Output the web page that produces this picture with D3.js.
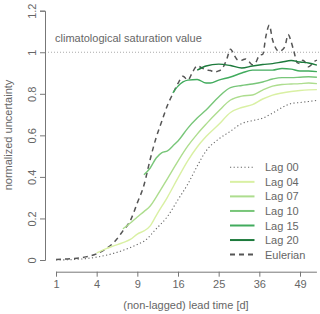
<!DOCTYPE html>
<html>
<head>
<meta charset="utf-8">
<script src="https://cdn.jsdelivr.net/npm/d3@7"></script>
<style>
  body { margin: 0; background: #fff; }
  text { font-family: "Liberation Sans", Arial, sans-serif; fill: #666; }
</style>
</head>
<body>
<div id="chart"></div>
<script>
// lead time ticks (square-root axis)
var xTicks = [1, 4, 9, 16, 25, 36, 49];
var yTicks = [0, 0.2, 0.4, 0.6, 0.8, 1, 1.2];

// days sampled for the lagged curves
var daysLag00 = [1, 2, 4, 6, 8, 9, 10, 12, 14, 16, 18, 20, 22, 25, 28, 31, 34, 37, 40, 43, 46, 49, 52, 55];
var lag00 = [0.0, 0.002, 0.014, 0.034, 0.06, 0.075, 0.09, 0.15, 0.21, 0.29, 0.366, 0.452, 0.525, 0.582, 0.62, 0.657, 0.671, 0.683, 0.707, 0.734, 0.753, 0.758, 0.763, 0.768];

var daysLag04 = [4, 5, 6, 7, 8, 9, 10, 11, 12, 14, 16, 18, 20, 22, 25, 28, 31, 34, 37, 40, 43, 46, 49, 52, 55];
var lag04 = [0.034, 0.055, 0.07, 0.084, 0.099, 0.125, 0.14, 0.164, 0.214, 0.303, 0.395, 0.478, 0.544, 0.594, 0.652, 0.71, 0.734, 0.748, 0.775, 0.794, 0.804, 0.811, 0.816, 0.819, 0.82];

var daysLag07 = [7, 8, 9, 10, 11, 12, 14, 16, 18, 20, 22, 25, 28, 31, 34, 37, 40, 43, 46, 49, 52, 55];
var lag07 = [0.15, 0.178, 0.207, 0.233, 0.26, 0.303, 0.392, 0.476, 0.549, 0.606, 0.654, 0.717, 0.77, 0.789, 0.794, 0.818, 0.837, 0.845, 0.847, 0.849, 0.852, 0.849];

var daysLag10 = [10, 11, 12, 13, 14, 15, 16, 18, 20, 22, 25, 28, 31, 34, 37, 40, 43, 46, 49, 52, 55];
var lag10 = [0.41, 0.443, 0.491, 0.517, 0.525, 0.549, 0.573, 0.635, 0.683, 0.722, 0.785, 0.83, 0.84, 0.847, 0.857, 0.871, 0.878, 0.878, 0.88, 0.882, 0.88];

var daysLag15 = [15, 16, 17, 18, 20, 22, 23, 25, 28, 31, 34, 37, 40, 43, 46, 49, 52, 55];
var lag15 = [0.804, 0.837, 0.857, 0.866, 0.869, 0.852, 0.852, 0.866, 0.881, 0.9, 0.914, 0.914, 0.914, 0.922, 0.919, 0.91, 0.91, 0.907];

var daysLag20 = [20, 22, 25, 28, 31, 34, 37, 40, 43, 46, 49, 52, 55];
var lag20 = [0.914, 0.934, 0.943, 0.936, 0.924, 0.934, 0.941, 0.945, 0.953, 0.96, 0.953, 0.948, 0.938];

// Eulerian, daily from day 1 to 55
var eulerian = [0.003, 0.007, 0.015, 0.03, 0.055, 0.09, 0.14, 0.19, 0.275, 0.36,
  0.485, 0.59, 0.67, 0.745, 0.8, 0.85, 0.885, 0.866, 0.905, 0.935,
  0.925, 0.915, 0.912, 0.905, 0.91, 0.925, 0.965, 1.015, 0.985, 0.962,
  0.962, 0.968, 0.955, 0.94, 0.952, 0.985, 0.99, 1.08, 1.13, 1.06,
  1.02, 1.005, 1.01, 1.03, 1.085, 1.05, 1.0, 0.95, 0.946, 0.962,
  0.948, 0.93, 0.94, 0.955, 0.962];

var seriesNames = ["Lag 00", "Lag 04", "Lag 07", "Lag 10", "Lag 15", "Lag 20", "Eulerian"];
var colors = ["#666666", "#d9f0a3", "#addd8e", "#78c679", "#41ab5d", "#1d7a3c", "#555555"];

var width = 320, height = 314;

var svg = d3.select("#chart").append("svg")
    .attr("width", width)
    .attr("height", height);

// set the ranges
var x = d3.scaleSqrt().domain([1, 49]).range([56, 300]);
var y = d3.scaleLinear().domain([0, 1.2]).range([260, 10.7]);

var line = d3.line()
    .x(function(d) { return x(d[0]); })
    .y(function(d) { return y(d[1]); })
    .curve(d3.curveMonotoneX);

function pairs(days, vals) {
  return days.map(function(d, i) { return [d, vals[i]]; });
}

var eulerDays = eulerian.map(function(v, i) { return i + 1; });

var data = [
  pairs(daysLag00, lag00),
  pairs(daysLag04, lag04),
  pairs(daysLag07, lag07),
  pairs(daysLag10, lag10),
  pairs(daysLag15, lag15),
  pairs(daysLag20, lag20),
  pairs(eulerDays, eulerian)
];
var dashes = ["1.2,2.4", null, null, null, null, null, "5,4"];
var widths = [1.1, 1.4, 1.4, 1.4, 1.4, 1.4, 1.5];

// saturation line
svg.append("line")
    .attr("x1", 45).attr("x2", width)
    .attr("y1", y(1)).attr("y2", y(1))
    .attr("stroke", "#aaa")
    .attr("stroke-width", 1)
    .attr("stroke-dasharray", "1,2");

svg.append("text")
    .attr("x", 55)
    .attr("y", y(1) - 10)
    .style("font-size", "11px")
    .text("climatological saturation value");

// lines (Eulerian drawn first, under the greens)
var order = [6, 0, 1, 2, 3, 4, 5];
order.forEach(function(i) {
  svg.append("path")
      .datum(data[i])
      .attr("fill", "none")
      .attr("stroke", colors[i])
      .attr("stroke-width", widths[i])
      .attr("stroke-dasharray", dashes[i])
      .attr("d", line);
});

// x axis
var xAxis = svg.append("g")
    .attr("transform", "translate(0,271.7)")
    .call(d3.axisBottom(x).tickValues(xTicks).tickFormat(d3.format("d")).tickSizeOuter(0).tickSize(5).tickPadding(4));
xAxis.select(".domain").attr("d", "M" + x(1) + ",0.5H" + x(55));
xAxis.selectAll("line, path").attr("stroke", "#777");
xAxis.selectAll("text").style("font-size", "11px").attr("fill", "#666");

// y axis
var yAxis = svg.append("g")
    .attr("transform", "translate(45,0)")
    .call(d3.axisLeft(y).tickValues(yTicks).tickFormat(function(d) { return d; }).tickSizeOuter(0).tickSize(5));
yAxis.selectAll("line, path").attr("stroke", "#777");
yAxis.selectAll("text")
    .style("font-size", "11px")
    .attr("fill", "#666")
    .attr("x", 0).attr("dy", 0)
    .attr("transform", "translate(-9.5,0) rotate(-90)")
    .style("text-anchor", "middle");

// axis labels
svg.append("text")
    .attr("x", 186)
    .attr("y", 309)
    .style("font-size", "11px")
    .style("text-anchor", "middle")
    .text("(non-lagged) lead time [d]");

svg.append("text")
    .attr("transform", "translate(12,135) rotate(-90)")
    .style("font-size", "11px")
    .style("text-anchor", "middle")
    .text("normalized uncertainty");

// legend
var legend = svg.append("g");
seriesNames.forEach(function(name, i) {
  var ly = 167.3 + i * 14.55;
  legend.append("line")
      .attr("x1", 230).attr("x2", 254.5)
      .attr("y1", ly).attr("y2", ly)
      .attr("stroke", colors[i])
      .attr("stroke-width", i === 0 ? 1.1 : 2)
      .attr("stroke-dasharray", dashes[i]);
  legend.append("text")
      .attr("x", 265)
      .attr("y", ly + 4)
      .style("font-size", "11px")
      .text(name);
});
</script>
</body>
</html>
